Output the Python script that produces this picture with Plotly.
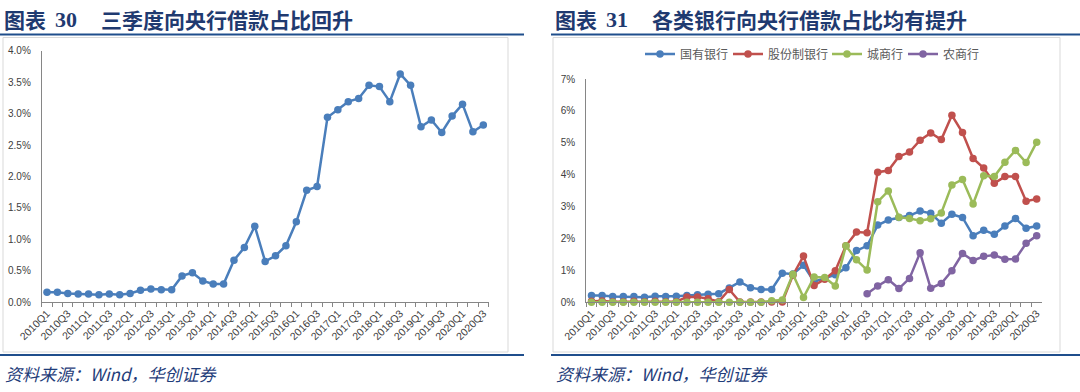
import plotly.graph_objects as go

W, H = 1080, 392

quarters = [
    "2010Q1", "2010Q2", "2010Q3", "2010Q4", "2011Q1", "2011Q2", "2011Q3", "2011Q4",
    "2012Q1", "2012Q2", "2012Q3", "2012Q4", "2013Q1", "2013Q2", "2013Q3", "2013Q4",
    "2014Q1", "2014Q2", "2014Q3", "2014Q4", "2015Q1", "2015Q2", "2015Q3", "2015Q4",
    "2016Q1", "2016Q2", "2016Q3", "2016Q4", "2017Q1", "2017Q2", "2017Q3", "2017Q4",
    "2018Q1", "2018Q2", "2018Q3", "2018Q4", "2019Q1", "2019Q2", "2019Q3", "2019Q4",
    "2020Q1", "2020Q2", "2020Q3",
]
tick_labels = [q if i % 2 == 0 else "" for i, q in enumerate(quarters)]

# Chart 30: total share (%)
total_share = [
    0.16, 0.16, 0.14, 0.13, 0.13, 0.12, 0.13, 0.12, 0.14, 0.19, 0.21, 0.20, 0.20,
    0.42, 0.47, 0.34, 0.29, 0.29, 0.67, 0.87, 1.21, 0.65, 0.74, 0.90, 1.28, 1.78,
    1.84, 2.94, 3.06, 3.19, 3.24, 3.45, 3.43, 3.19, 3.63, 3.45, 2.79, 2.90, 2.70,
    2.96, 3.15, 2.71, 2.82,
]

# Chart 31: by bank type (%)
state_banks = [
    0.21, 0.21, 0.18, 0.18, 0.18, 0.16, 0.19, 0.18, 0.19, 0.21, 0.24, 0.25, 0.27,
    0.45, 0.64, 0.46, 0.40, 0.40, 0.91, 0.89, 1.16, 0.65, 0.75, 0.86, 1.08, 1.62,
    1.77, 2.42, 2.58, 2.66, 2.72, 2.86, 2.79, 2.48, 2.76, 2.66, 2.09, 2.26, 2.13,
    2.39, 2.63, 2.32, 2.39,
]
joint_stock = [
    0.03, 0.04, 0.02, 0.02, 0.03, 0.02, 0.03, 0.02, 0.02, 0.17, 0.17, 0.11, 0.02,
    0.40, 0.01, 0.01, 0.01, 0.01, 0.01, 0.85, 1.45, 0.53, 0.72, 0.99, 1.77, 2.20,
    2.18, 4.08, 4.13, 4.57, 4.71, 5.08, 5.31, 5.10, 5.86, 5.32, 4.51, 4.21, 3.73,
    3.94, 3.94, 3.17, 3.24,
]
city_banks = [
    0.00, 0.00, 0.00, 0.00, 0.00, 0.00, 0.00, 0.00, 0.00, 0.00, 0.00, 0.00, 0.00,
    0.00, 0.00, 0.00, 0.00, 0.05, 0.07, 0.88, 0.15, 0.79, 0.78, 0.51, 1.77, 1.33,
    1.01, 3.15, 3.49, 2.67, 2.63, 2.56, 2.62, 2.80, 3.68, 3.85, 3.08, 3.97, 3.94,
    4.39, 4.76, 4.38, 5.02,
]
rural_banks = [None] * 26 + [
    0.27, 0.51, 0.71, 0.43, 0.75, 1.55, 0.44, 0.59, 0.99, 1.53, 1.31, 1.44, 1.48,
    1.35, 1.36, 1.85, 2.09,
]

series_names = ["国有银行", "股份制银行", "城商行", "农商行"]
series_values = [state_banks, joint_stock, city_banks, rural_banks]
series_colors = ["#4A7EBB", "#C0504D", "#9BBB59", "#8064A2"]

left_ticks = [0, 0.5, 1.0, 1.5, 2.0, 2.5, 3.0, 3.5, 4.0]
left_tick_text = ["0.0%", "0.5%", "1.0%", "1.5%", "2.0%", "2.5%", "3.0%", "3.5%", "4.0%"]
right_ticks = [0, 1, 2, 3, 4, 5, 6, 7]
right_tick_text = ["0%", "1%", "2%", "3%", "4%", "5%", "6%", "7%"]


def px(x):
    return x / W


def py(y):
    return 1 - y / H


fig = go.Figure()

fig.add_trace(go.Scatter(
    x=quarters, y=total_share, mode="lines+markers", showlegend=False,
    line=dict(color="#4A7EBB", width=2.5), marker=dict(size=7.5, color="#4A7EBB"),
    cliponaxis=False, xaxis="x", yaxis="y",
))

legend_ids = ["legend", "legend2", "legend3", "legend4"]
for name, vals, col, lid in zip(series_names, series_values, series_colors, legend_ids):
    fig.add_trace(go.Scatter(
        x=quarters, y=vals, name=name, mode="lines+markers",
        line=dict(color=col, width=2.5), marker=dict(size=7.5, color=col),
        cliponaxis=False, xaxis="x2", yaxis="y2", connectgaps=False, legend=lid,
    ))

xfont = dict(family="Liberation Sans, Arial", size=10.5, color="#404040")
yfont = dict(family="Liberation Sans, Arial", size=10, color="#404040")

xcommon = dict(
    type="category", tickmode="array", tickvals=quarters, ticktext=tick_labels,
    tickangle=-45, tickson="boundaries", ticks="outside", ticklen=4,
    tickcolor="#868686", showline=True, linecolor="#868686", linewidth=1,
    showgrid=False, zeroline=False, tickfont=xfont, range=[-0.5, 42.5],
    fixedrange=True, automargin=False,
)
ycommon = dict(
    showline=True, linecolor="#868686", linewidth=1, showgrid=False,
    zeroline=False, tickfont=yfont, ticks="", ticklabelstandoff=8,
    tickmode="array", automargin=False, fixedrange=True,
)

fig.update_layout(
    width=W, height=H, autosize=False,
    margin=dict(l=0, r=0, t=0, b=0, pad=0, autoexpand=False),
    paper_bgcolor="white", plot_bgcolor="white",
    xaxis=dict(domain=[px(41.8), px(488.5)], anchor="y", **xcommon),
    yaxis=dict(domain=[py(302.3), py(50.7)], anchor="x", range=[0, 4],
               tickvals=left_ticks, ticktext=left_tick_text, **ycommon),
    xaxis2=dict(domain=[px(586.2), px(1042)], anchor="y2", **xcommon),
    yaxis2=dict(domain=[py(302.3), py(79)], anchor="x2", range=[0, 7],
                tickvals=right_ticks, ticktext=right_tick_text, **ycommon),
)

legend_x = [640, 728, 827, 903]
for lid, lx in zip(legend_ids, legend_x):
    fig.update_layout({lid: dict(
        orientation="h", x=px(lx), y=py(54), xanchor="left", yanchor="middle",
        font=dict(family="Noto Sans CJK SC", size=12, color="#595959"),
        itemwidth=30, bgcolor="rgba(0,0,0,0)",
    )})

shapes = []
# chart frames
for x0, x1 in [(3, 508), (553, 1060)]:
    shapes.append(dict(type="rect", xref="paper", yref="paper",
                       x0=px(x0), x1=px(x1), y0=py(352), y1=py(37.5),
                       line=dict(color="#D9D9D9", width=1), layer="below"))
# blue separator lines
for x0, x1 in [(0, 524), (551, 1080)]:
    for yy in (34.5, 355):
        shapes.append(dict(type="line", xref="paper", yref="paper",
                           x0=px(x0), x1=px(x1), y0=py(yy), y1=py(yy),
                           line=dict(color="#1F4E8C", width=2)))
fig.update_layout(shapes=shapes)

title_color = "#1F3A70"
ann = []
for x0, num, txt in [(2, "30", "三季度向央行借款占比回升"), (553, "31", "各类银行向央行借款占比均有提升")]:
    ann.append(dict(text="<b>图表</b>", x=px(x0), y=py(19), xref="paper", yref="paper",
                    xanchor="left", yanchor="middle", showarrow=False,
                    font=dict(family="Noto Sans CJK SC", size=21, color=title_color)))
    ann.append(dict(text="<b>" + num + "</b>", x=px(x0 + 51), y=py(19.5), xref="paper", yref="paper",
                    xanchor="left", yanchor="middle", showarrow=False,
                    font=dict(family="Liberation Serif", size=22, color=title_color)))
    ann.append(dict(text="<b>" + txt + "</b>", x=px(x0 + 97), y=py(19), xref="paper", yref="paper",
                    xanchor="left", yanchor="middle", showarrow=False,
                    font=dict(family="Noto Sans CJK SC", size=21, color=title_color)))
    ann.append(dict(text="<i>资料来源：Wind，华创证券</i>", x=px(x0 + 1), y=py(373), xref="paper", yref="paper",
                    xanchor="left", yanchor="middle", showarrow=False,
                    font=dict(family="Noto Sans CJK SC", size=17, color="#1F3D7A")))
fig.update_layout(annotations=ann)

fig.write_html(
    "out.html",
    config={"displayModeBar": False, "staticPlot": True},
    post_script="document.body.style.margin='0';document.body.style.overflow='hidden';",
)
